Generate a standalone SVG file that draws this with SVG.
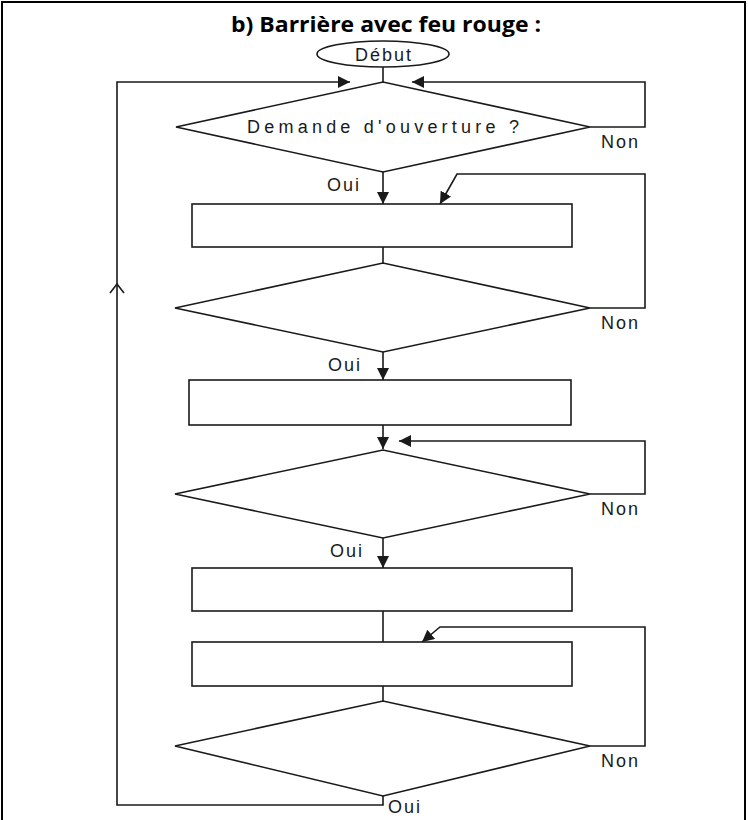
<svg xmlns="http://www.w3.org/2000/svg" width="748" height="820" viewBox="0 0 748 820">
<style>
.ln{fill:none;stroke:#1a1a1a;stroke-width:1.6}
.nd{fill:#fff;stroke:#1a1a1a;stroke-width:1.6}
.lb{font-family:"Liberation Sans",Arial,sans-serif;font-size:18px;fill:#1a1a1a;letter-spacing:2px}
.tt{font-family:"Open Sans","Liberation Sans",sans-serif;font-size:22px;font-weight:bold;fill:#000}
</style>
<defs>
<marker id="ah" markerUnits="userSpaceOnUse" markerWidth="12" markerHeight="12" viewBox="0 0 10 10" refX="10" refY="5" orient="auto">
<path d="M0,0 L10,5 L0,10 z" fill="#1a1a1a"/>
</marker>
</defs>
<rect x="2" y="2" width="743" height="830" fill="#fff" stroke="#000" stroke-width="2"/>
<g id="title"><text class="tt" x="386" y="32" text-anchor="middle" textLength="310" lengthAdjust="spacingAndGlyphs">b) Barrière avec feu rouge :</text></g>
<g id="connectors">
<path class="ln" d="M383,67 V82"/>
<path class="ln" d="M383,796 V805 H117 V82 H350" marker-end="url(#ah)"/>
<path class="ln" d="M590,127 H645 V82 H412" marker-end="url(#ah)"/>
<path class="ln" d="M383,172 V204" marker-end="url(#ah)"/>
<path class="ln" d="M383,247 V263"/>
<path class="ln" d="M590,308 H645 V174 H457 L440,204" marker-end="url(#ah)"/>
<path class="ln" d="M383,352 V380" marker-end="url(#ah)"/>
<path class="ln" d="M383,425 V449" marker-end="url(#ah)"/>
<path class="ln" d="M590,494 H645 V441 H399" marker-end="url(#ah)"/>
<path class="ln" d="M383,538 V568" marker-end="url(#ah)"/>
<path class="ln" d="M383,611 V642"/>
<path class="ln" d="M383,686 V701"/>
<path class="ln" d="M590,746 H645 V627 H440 L422,642" marker-end="url(#ah)"/>
<path class="ln" d="M110,293 L117,284 L124,293"/>
</g>
<g id="start"><ellipse class="nd" cx="383" cy="54" rx="66" ry="13"/><text class="lb" x="384" y="61" text-anchor="middle">Début</text></g>
<g id="d1"><polygon class="nd" points="176,127 383,82 590,127 383,172"/><text class="lb" x="384" y="133" text-anchor="middle" textLength="274" lengthAdjust="spacing">Demande d'ouverture ?</text></g>
<g id="r1"><rect class="nd" x="192" y="204" width="380" height="43"/></g>
<g id="d2"><polygon class="nd" points="175,308 383,263 590,308 383,352"/></g>
<g id="r2"><rect class="nd" x="189" y="380" width="382" height="45"/></g>
<g id="d3"><polygon class="nd" points="175,494 383,450 590,494 383,538"/></g>
<g id="r3"><rect class="nd" x="192" y="568" width="380" height="43"/></g>
<g id="r4"><rect class="nd" x="192" y="642" width="380" height="44"/></g>
<g id="d4"><polygon class="nd" points="175,746 383,701 590,746 383,796"/></g>
<g id="labels">
<text class="lb" x="601" y="148">Non</text>
<text class="lb" x="327" y="191">Oui</text>
<text class="lb" x="601" y="329">Non</text>
<text class="lb" x="328" y="371">Oui</text>
<text class="lb" x="601" y="515">Non</text>
<text class="lb" x="330" y="557">Oui</text>
<text class="lb" x="601" y="767">Non</text>
<text class="lb" x="388" y="813">Oui</text>
</g>
</svg>
